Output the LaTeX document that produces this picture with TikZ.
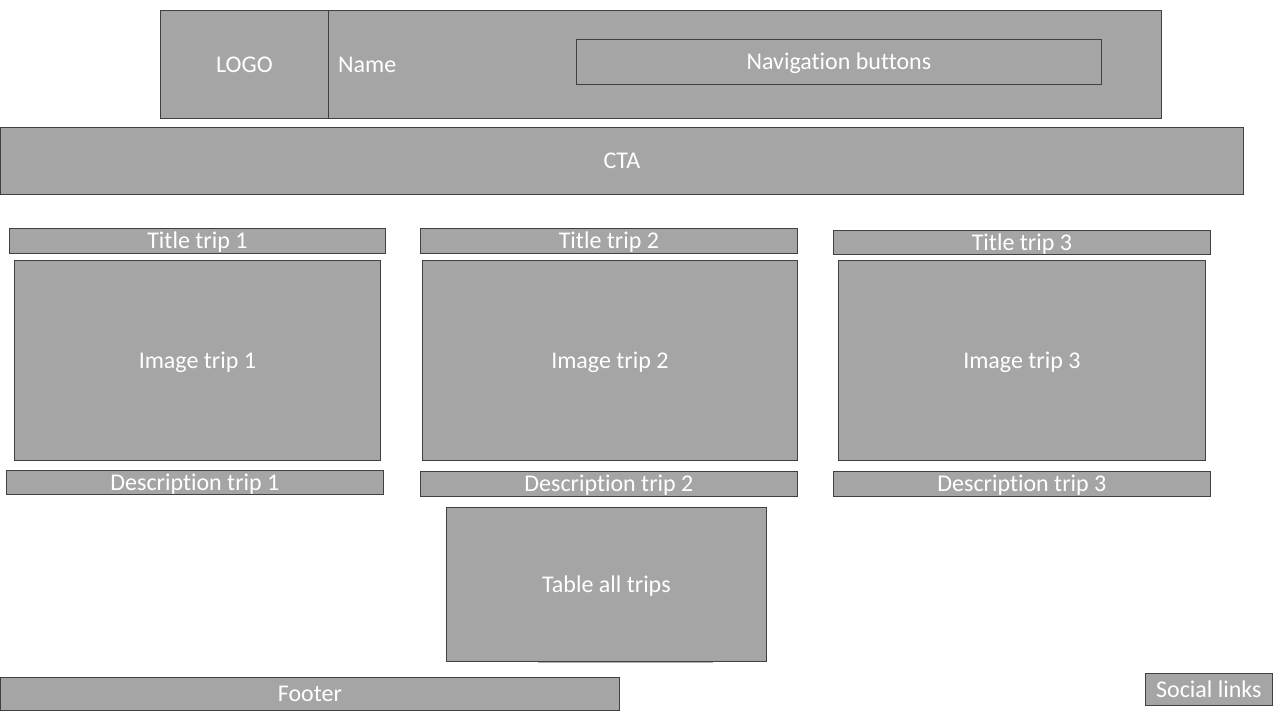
\documentclass[tikz,border=0pt]{standalone}
\usepackage{fontspec}
\setmainfont{Carlito}[Ligatures={NoCommon}]
\definecolor{boxfill}{HTML}{A5A5A5}
\definecolor{boxline}{HTML}{404040}
\tikzset{
  wtext/.style={text=white, font=\fontsize{24}{28}\selectfont, text height=17.5pt, text depth=1.5pt},
  wbox/.style={draw=boxline, fill=boxfill, line width=0.8pt, inner sep=0pt, anchor=north west, wtext},
  wlabel/.style={wtext, inner sep=0pt},
}
\begin{document}
\begin{tikzpicture}[x=1pt,y=-1pt]
\useasboundingbox (0,0) rectangle (1280,720);
% header
\node[wbox, minimum width=1001pt, minimum height=108pt] (header) at (160,10) {};
\node[wbox, minimum width=168pt, minimum height=108pt] (logo) at (160,10) {LOGO};
\node[wlabel, anchor=west] (name) at (338,64) {Name};
\node[wbox, minimum width=525pt, minimum height=45pt] (nav) at (576,39) {Navigation buttons};
% CTA
\node[wbox, minimum width=1243pt, minimum height=67pt] (cta) at (0,127) {CTA};
% trips
\node[wbox, minimum width=376pt, minimum height=25pt] (title1) at (9,228) {Title trip 1};
\node[wbox, minimum width=377pt, minimum height=25pt] (title2) at (420,228) {Title trip 2};
\node[wbox, minimum width=377pt, minimum height=24pt] (title3) at (833,230) {Title trip 3};
\node[wbox, minimum width=366pt, minimum height=200pt] (image1) at (14,260) {Image trip 1};
\node[wbox, minimum width=375pt, minimum height=200pt] (image2) at (422,260) {Image trip 2};
\node[wbox, minimum width=367pt, minimum height=200pt] (image3) at (838,260) {Image trip 3};
\node[wbox, minimum width=377pt, minimum height=24pt] (desc1) at (6,470) {Description trip 1};
\node[wbox, minimum width=377pt, minimum height=25pt] (desc2) at (420,471) {Description trip 2};
\node[wbox, minimum width=377pt, minimum height=25pt] (desc3) at (833,471) {Description trip 3};
% table
\fill[boxfill!85!white] (538,661.5) rectangle (713,663);
\node[wbox, minimum width=320pt, minimum height=154pt] (table) at (446,507) {Table all trips};
% footer
\node[wbox, minimum width=619pt, minimum height=33pt] (footer) at (0,677) {Footer};
\node[wbox, minimum width=127pt, minimum height=32pt] (social) at (1145,673) {Social links};
\end{tikzpicture}
\end{document}
